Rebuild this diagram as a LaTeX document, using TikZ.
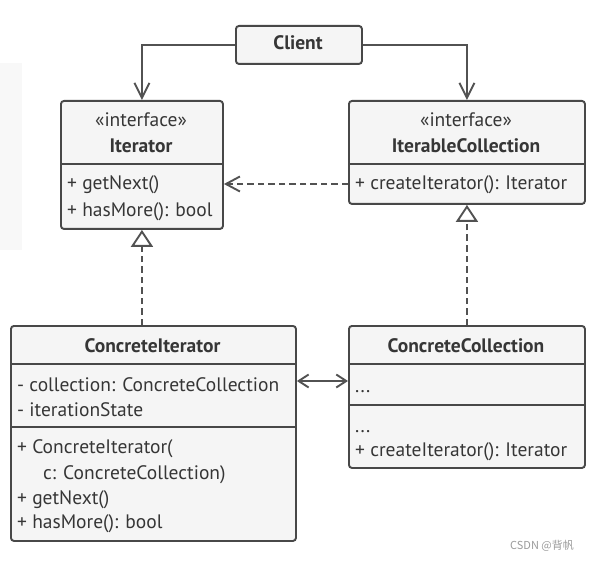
\documentclass[tikz,border=0pt]{standalone}
\usepackage{fontspec}
\setmainfont{PT Sans}
\newfontfamily\cjk{Noto Sans CJK SC}
\usetikzlibrary{arrows.meta,calc}
\definecolor{bd}{HTML}{484848}
\definecolor{bx}{HTML}{F5F5F5}
\definecolor{tx}{HTML}{363636}
\definecolor{ln}{HTML}{525252}
\definecolor{pn}{HTML}{F8F8F8}
\definecolor{wm}{HTML}{9A9A9A}
\tikzset{
  cls/.style={draw=bd, fill=bx, line width=1.9pt, rounded corners=3pt, anchor=north west, inner sep=0pt},
  dv/.style={draw=bd, line width=1.9pt},
  tt/.style={text=tx, font=\fontsize{19.5}{23}\selectfont, inner sep=0pt, anchor=mid west},
  ttc/.style={text=tx, font=\fontsize{19.5}{23}\selectfont, inner sep=0pt, anchor=mid},
  ttb/.style={text=tx, font=\fontsize{19.5}{23}\selectfont\bfseries, inner sep=0pt, anchor=mid},
  assoc/.style={draw=ln, line width=1.9pt, -{Straight Barb[length=15pt,width=15pt,line width=1.9pt]}},
  dep/.style={draw=ln, line width=1.9pt, dash pattern=on 6.5pt off 4pt, -{Straight Barb[length=14pt,width=15pt,line width=1.9pt]}},
  real/.style={draw=ln, line width=1.9pt, dash pattern=on 6.5pt off 4pt, -{Triangle[open,length=17pt,width=22pt,line width=1.9pt,fill=white]}},
  bidir/.style={draw=ln, line width=1.9pt, {Straight Barb[length=10pt,width=13pt,line width=1.9pt]}-{Straight Barb[length=10pt,width=13pt,line width=1.9pt]}},
}
\begin{document}
\begin{tikzpicture}[x=1pt,y=-1pt]
\useasboundingbox (0,0) rectangle (591,561);
\fill[pn] (0,63) rectangle (22,250);

% Client
\node[cls, minimum width=126pt, minimum height=38pt] (client) at (235,25) {};
\node[ttb] (clientT) at (298,47.5) {Client};

% Iterator
\node[cls, minimum width=162pt, minimum height=128pt] (iter) at (60,100) {};
\draw[dv] (60,164) -- (222,164);
\node[ttc] (iterS) at (141,124.5) {«interface»};
\node[ttb] (iterT) at (141,150.5) {Iterator};
\node[tt] (iterM1) at (67,187.5) {+ getNext()};
\node[tt] (iterM2) at (67,214.5) {+ hasMore(): bool};

% IterableCollection
\node[cls, minimum width=236pt, minimum height=103pt] (icoll) at (348,100) {};
\draw[dv] (348,164) -- (584,164);
\node[ttc] (icollS) at (466,124.5) {«interface»};
\node[ttb] (icollT) at (466,150.5) {IterableCollection};
\node[tt] (icollM) at (355,187.5) {+ createIterator(): Iterator};

% ConcreteIterator
\node[cls, minimum width=285pt, minimum height=215pt] (citer) at (10,325) {};
\draw[dv] (10,364) -- (295,364);
\draw[dv] (10,427) -- (295,427);
\node[ttb] (citerT) at (152.5,349.5) {ConcreteIterator};
\node[tt] (citerF1) at (17,388.5) {- collection: ConcreteCollection};
\node[tt] (citerF2) at (17,413.5) {- iterationState};
\node[tt] (citerM1) at (17,450.5) {+ ConcreteIterator(};
\node[tt] (citerM2) at (43,476.5) {c: ConcreteCollection)};
\node[tt] (citerM3) at (17,501.5) {+ getNext()};
\node[tt] (citerM4) at (17,525.5) {+ hasMore(): bool};

% ConcreteCollection
\node[cls, minimum width=236pt, minimum height=142pt] (ccoll) at (348,325) {};
\draw[dv] (348,364) -- (584,364);
\draw[dv] (348,405) -- (584,405);
\node[ttb] (ccollT) at (466,349.5) {ConcreteCollection};
\node[tt] (ccollF) at (355,390) {...};
\node[tt] (ccollM1) at (355,430) {...};
\node[tt] (ccollM2) at (355,453.5) {+ createIterator(): Iterator};

% connectors
\coordinate (dl) at (0,184);
\draw[assoc] (client.west) -| (iter.north);
\draw[assoc] (client.east) -| (icoll.north);
\draw[dep] (icoll.west |- dl) -- (iter.east |- dl);
\draw[real] (iter.south |- citer.north) -- (iter.south);
\draw[real] (icoll.south |- ccoll.north) -- (icoll.south);
\coordinate (mid) at (0,381);
\draw[bidir] (citer.east |- mid) -- (ccoll.west |- mid);

% watermark
\node[text=wm, font=\cjk\fontsize{11}{13}\selectfont, inner sep=0pt, anchor=mid] (wmk) at (542,547) {CSDN @背帆};
\end{tikzpicture}
\end{document}
